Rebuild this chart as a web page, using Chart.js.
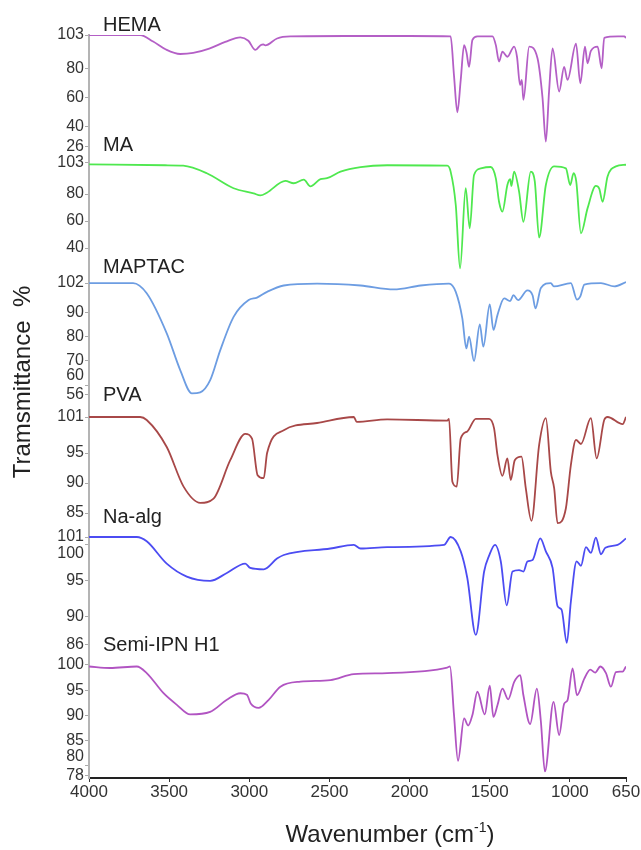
<!DOCTYPE html>
<html>
<head>
<meta charset="utf-8">
<title>FTIR spectra</title>
<script src="https://cdn.jsdelivr.net/npm/chart.js@4.4.1/dist/chart.umd.min.js"></script>
<style>
  body { margin: 0; background: #fff; }
  #wrap { width: 641px; height: 850px; }
</style>
</head>
<body>
<div id="wrap"><canvas id="ftir"></canvas></div>
<script>
// wavenumber ticks (cm-1), axis runs 4000 -> 650
const xTicks = [4000, 3500, 3000, 2500, 2000, 1500, 1000, 650];

// HEMA
const hemaWn = [4000, 3681, 3600, 3520, 3431, 3350, 3250, 3150, 3056, 3006, 2962, 2930, 2912, 2900, 2827, 2744, 2400, 2000, 1744, 1723, 1702, 1681, 1660, 1645, 1629, 1608, 1577, 1483, 1462, 1442, 1421, 1390, 1348, 1330, 1311, 1300, 1290, 1254, 1202, 1171, 1150, 1130, 1108, 1067, 1036, 1015, 962, 935, 906, 890, 869, 827, 802, 786, 700, 660, 650];
const hemaT = [103, 103, 98.5, 93, 89.9, 90.6, 93.6, 98.2, 101.4, 99, 92.7, 96, 96.6, 95.8, 100.6, 102, 102.3, 102.3, 102, 75, 49.7, 72, 96, 91, 81, 99.6, 102, 102, 96, 84.6, 91.5, 88, 95, 88, 68.5, 72, 58.2, 95, 87, 60, 29.4, 64, 93.8, 64, 81, 72, 97, 69.7, 95, 83.5, 92, 95, 80, 101, 102, 102, 101];
const hemaTicks = [103, 80, 60, 40, 26];

// MA
const maWn = [4000, 3525, 3412, 3265, 3098, 2973, 2931, 2890, 2775, 2723, 2660, 2619, 2556, 2515, 2431, 2306, 2140, 1765, 1744, 1712, 1685, 1650, 1625, 1598, 1556, 1494, 1462, 1442, 1421, 1390, 1373, 1365, 1348, 1317, 1290, 1244, 1219, 1192, 1150, 1098, 1025, 998, 977, 960, 931, 890, 838, 817, 796, 765, 713, 650];
const maT = [102, 101.3, 101, 95.4, 84.3, 80.5, 79, 81, 89.7, 88, 90.6, 85.7, 91, 91.7, 96.6, 100, 101.3, 101, 96.6, 71.9, 25, 84.3, 54.6, 94.1, 99, 100, 91.6, 74.3, 67, 86.7, 91, 86, 96.6, 81.8, 59.5, 96.6, 89.3, 47.7, 86.7, 100.5, 99, 86.7, 95.4, 89, 50.9, 69.4, 86, 84, 74.3, 93, 100.5, 101.7];
const maTicks = [103, 80, 60, 40];

// MAPTAC
const maptacWn = [4000, 3725, 3640, 3515, 3431, 3358, 3306, 3244, 3181, 3098, 3004, 2952, 2889, 2785, 2577, 2306, 2098, 1931, 1754, 1712, 1671, 1646, 1629, 1598, 1562, 1540, 1500, 1477, 1452, 1410, 1373, 1352, 1323, 1265, 1233, 1215, 1181, 1119, 1100, 994, 956, 935, 910, 806, 723, 650];
const maptacT = [102, 102, 97.8, 81.3, 66.2, 56.6, 57, 62, 74.4, 88.1, 95, 96, 98.4, 101, 101.8, 101, 99.4, 101, 101.8, 98.4, 87.5, 75.1, 79.9, 69.9, 85, 75.8, 93.2, 82.7, 88.8, 95.7, 94.6, 97, 95, 99, 97, 91.6, 100, 102, 100.6, 102, 95.2, 96.5, 101.4, 102, 100.6, 102.4];
const maptacTicks = [102, 90, 80, 70, 60, 56];

// PVA
const pvaWn = [4000, 3681, 3640, 3515, 3410, 3306, 3223, 3119, 3025, 2983, 2948, 2910, 2889, 2785, 2577, 2348, 2330, 2140, 1765, 1754, 1733, 1706, 1681, 1640, 1587, 1504, 1473, 1452, 1421, 1390, 1369, 1344, 1302, 1275, 1240, 1192, 1150, 1119, 1098, 1077, 1025, 994, 962, 931, 869, 833, 786, 765, 671, 650];
const pvaT = [101, 101, 100.5, 96, 89.4, 86.7, 87.4, 93.8, 98.2, 97.4, 91.3, 90.8, 95, 98.8, 100, 101, 100.2, 100.6, 100.4, 100.7, 90.2, 89.4, 97.4, 98.6, 100.7, 100.7, 99.1, 94.7, 91.2, 94.1, 90.5, 93.8, 94.4, 89.1, 83.7, 96.3, 100.8, 91.9, 89.1, 83.3, 85.8, 93, 97.2, 96.5, 100.8, 94.1, 100.5, 101, 99.8, 101];
const pvaTicks = [101, 95, 90, 85];

// Na-alg
const nalgWn = [4000, 3702, 3640, 3515, 3390, 3244, 3140, 3025, 2994, 2910, 2827, 2785, 2494, 2348, 2306, 2140, 1785, 1744, 1681, 1640, 1587, 1535, 1504, 1467, 1431, 1394, 1358, 1317, 1290, 1265, 1233, 1185, 1150, 1108, 1077, 1052, 1019, 994, 958, 931, 900, 869, 838, 806, 779, 702, 650];
const nalgT = [101, 101, 100.4, 97.3, 95.5, 94.9, 96, 97.3, 96.7, 96.5, 98, 98.5, 99.4, 99.9, 99.4, 99.6, 99.9, 101, 99, 95.3, 87.4, 96.2, 98.4, 99.9, 97.6, 91.5, 96.2, 96.4, 96.2, 97.6, 97.8, 100.8, 99, 96.7, 91.4, 90.9, 86.3, 92, 97.6, 97, 99.6, 98.8, 100.9, 98.6, 99.5, 99.9, 100.8];
const nalgTicks = [101, 100, 95, 90, 86];

// Semi-IPN H1
const h1Wn = [4000, 3869, 3702, 3640, 3535, 3452, 3369, 3244, 3140, 3056, 3015, 2990, 2942, 2879, 2806, 2681, 2494, 2348, 2140, 1765, 1748, 1723, 1698, 1660, 1635, 1608, 1577, 1531, 1500, 1477, 1452, 1421, 1385, 1348, 1310, 1290, 1248, 1206, 1181, 1156, 1102, 1067, 1036, 1015, 983, 956, 910, 873, 842, 810, 775, 744, 713, 671, 650];
const h1T = [99.7, 99.4, 99.7, 98.4, 94.4, 92.1, 90.2, 90.7, 93.1, 94.4, 94.1, 92.3, 91.5, 93.1, 95.7, 96.7, 97, 98.2, 98.4, 99.5, 99.7, 90.1, 81, 89.4, 88, 90.1, 94.7, 90.2, 95.9, 89.7, 92, 95.3, 93.2, 96.6, 98, 94, 88.3, 95.3, 88.8, 78.9, 92.7, 86.1, 92.3, 93, 99.3, 94, 97.3, 99.1, 98.5, 99.7, 98.4, 95.7, 98.6, 98.7, 99.7];
const h1Ticks = [100, 95, 90, 85, 80, 78];

const FONT = '"Liberation Sans", Arial, sans-serif';

// one stacked y axis per spectrum, top to bottom
// (min/max include the blank gap above each trace; h = share of the height)
const panels = [
  { id: 'yHema', name: 'HEMA', wn: hemaWn, t: hemaT, ticks: hemaTicks, color: '#b45fc6', min: 20.2, max: 103, h: 120, up: [], down: [] },
  { id: 'yMa', name: 'MA', wn: maWn, t: maT, ticks: maTicks, color: '#4fe84f', min: 18.6, max: 108.9, h: 122, up: [], down: [] },
  { id: 'yMaptac', name: 'MAPTAC', wn: maptacWn, t: maptacT, ticks: maptacTicks, color: '#6d9de2', min: 51.8, max: 104.5, h: 128, up: [60], down: [] },
  { id: 'yPva', name: 'PVA', wn: pvaWn, t: pvaT, ticks: pvaTicks, color: '#a84848', min: 82.67, max: 103, h: 122, up: [], down: [] },
  { id: 'yNalg', name: 'Na-alg', wn: nalgWn, t: nalgT, ticks: nalgTicks, color: '#4c4cf2', min: 84.6, max: 102.39, h: 128, up: [], down: [100] },
  { id: 'yH1', name: 'Semi-IPN H1', wn: h1Wn, t: h1T, ticks: h1Ticks, color: '#b154c2', min: 77.6, max: 101.98, h: 123, up: [80], down: [] }
];

const scales = {
  x: {
    type: 'linear',
    reverse: true,
    min: 650,
    max: 4000,
    afterBuildTicks: (scale) => { scale.ticks = xTicks.map(v => ({ value: v })); },
    afterFit: (scale) => { scale.height = 72; },
    grid: { display: true, drawOnChartArea: false, drawTicks: true, tickLength: 4, color: '#333' },
    border: { color: '#222', width: 2 },
    ticks: {
      autoSkip: false, maxRotation: 0, padding: 0, color: '#333',
      font: { family: FONT, size: 17 },
      callback: (v) => String(v)
    }
  }
};

panels.forEach((p, i) => {
  scales[p.id] = {
    type: 'linear',
    position: 'left',
    stack: 'ftir',
    stackWeight: p.h,
    weight: panels.length - i,
    min: p.min,
    max: p.max,
    afterBuildTicks: (scale) => { scale.ticks = p.ticks.map(v => ({ value: v })); },
    afterFit: (scale) => { scale.width = 89; },
    grid: { display: true, drawOnChartArea: false, drawTicks: true, tickLength: 4, color: '#aaa' },
    border: { color: '#b4b4b4', width: 2 },
    ticks: {
      autoSkip: false,
      padding: 1,
      color: '#333',
      font: { family: FONT, size: 16 },
      // nudge crowded labels, like in the original figure
      callback: (v) => p.up.includes(v) ? [String(v), ''] : (p.down.includes(v) ? ['', String(v)] : String(v))
    }
  };
});

const datasets = panels.map(p => ({
  label: p.name,
  yAxisID: p.id,
  data: p.wn.map((w, i) => ({ x: w, y: p.t[i] })),
  borderColor: p.color,
  borderWidth: 1.8,
  pointRadius: 0,
  fill: false,
  cubicInterpolationMode: 'monotone'
}));

const textPlugin = {
  id: 'ftirText',
  afterDraw(chart) {
    const { ctx, chartArea } = chart;
    ctx.save();
    ctx.fillStyle = '#222';
    ctx.textBaseline = 'alphabetic';
    ctx.textAlign = 'left';
    ctx.font = '20px ' + FONT;
    panels.forEach(p => {
      const s = chart.scales[p.id];
      ctx.fillText(p.name, chartArea.left + 14, s.top - 4);
    });

    // y title
    ctx.save();
    ctx.translate(23, 382);
    ctx.rotate(-Math.PI / 2);
    ctx.textAlign = 'center';
    ctx.textBaseline = 'middle';
    ctx.font = '24px ' + FONT;
    ctx.fillText('Tramsmittance  %', 0, 0);
    ctx.restore();

    // x title with superscript
    const big = '24px ' + FONT, small = '14px ' + FONT;
    ctx.font = big;
    const w1 = ctx.measureText('Wavenumber (cm').width;
    const w3 = ctx.measureText(')').width;
    ctx.font = small;
    const w2 = ctx.measureText('-1').width;
    let x = 390 - (w1 + w2 + w3) / 2;
    const base = 842;
    ctx.font = big;
    ctx.fillText('Wavenumber (cm', x, base);
    x += w1;
    ctx.font = small;
    ctx.fillText('-1', x, base - 10);
    x += w2;
    ctx.font = big;
    ctx.fillText(')', x, base);
    ctx.restore();
  }
};

new Chart(document.getElementById('ftir'), {
  type: 'line',
  data: { datasets },
  options: {
    responsive: true,
    maintainAspectRatio: false,
    animation: false,
    layout: { padding: { top: 35, right: 15, bottom: 0, left: 0 } },
    plugins: { legend: { display: false }, tooltip: { enabled: false } },
    scales
  },
  plugins: [textPlugin]
});
</script>
</body>
</html>
